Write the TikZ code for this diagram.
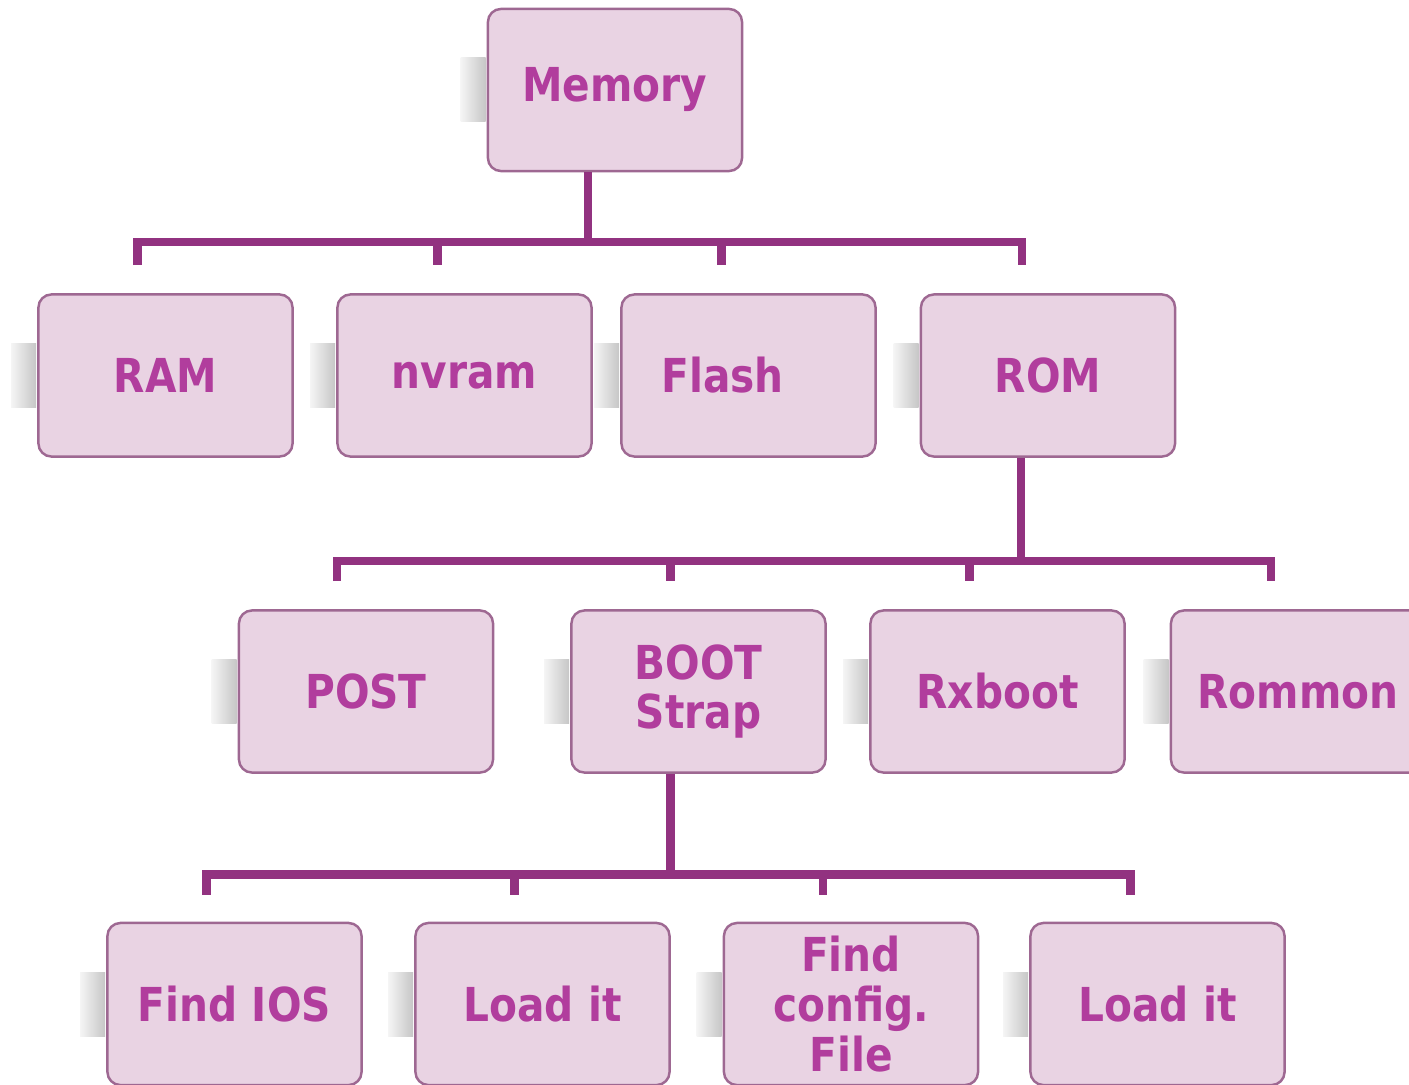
\documentclass[tikz,border=0pt]{standalone}
\usepackage{fontspec}
\setmainfont{DejaVu Sans}[FakeStretch=0.87]
\usetikzlibrary{calc}
\definecolor{linkc}{HTML}{923280}
\definecolor{textc}{HTML}{B13D9D}
\definecolor{boxfill}{HTML}{E9D3E3}
\definecolor{boxline}{HTML}{9E6892}
\begin{document}
\begin{tikzpicture}[x=0.01cm,y=-0.01cm,
  membox/.style={draw=boxline, line width=0.7pt, fill=boxfill,
    rounded corners=0.13cm, minimum width=2.54cm, minimum height=1.62cm,
    inner sep=0pt, align=center, text=textc,
    font=\bfseries\fontsize{13.3}{14.2}\selectfont},
  link/.style={draw=linkc, line width=0.085cm, line join=miter},
  sidebar/.style={left color=gray!8, right color=gray!45}]
\useasboundingbox (0,0) rectangle (1409,1085);
\clip (0,0) rectangle (1409,1085);

% boxes
\node[membox] (mem)  at (615,90)     {Memory};
\node[membox] (ram)  at (165.5,375.5) {RAM};
\node[membox] (nvr)  at (464.5,375.5) {nvram};
\node[membox] (fla)  at (748.5,375.5) {Flash\hspace*{0.52cm}};
\node[membox] (rom)  at (1048,375.5)  {ROM};
\node[membox] (post) at (366,691.5)   {POST};
\node[membox] (boot) at (698.5,691.5) {BOOT\\Strap};
\node[membox] (rxb)  at (997.5,691.5) {Rxboot};
\node[membox] (rmn)  at (1298,691.5)  {Rommon};
\node[membox] (fios) at (234.5,1004)  {Find IOS};
\node[membox] (ld1)  at (542.5,1004)  {Load it};
\node[membox] (fcf)  at (851,1004)    {Find\\config.\\File};
\node[membox] (ld2)  at (1157.5,1004) {Load it};

% grey side tabs left of each box
\foreach \n in {mem,ram,nvr,fla,rom,post,boot,rxb,rmn,fios,ld1,fcf,ld2}
  \shade[sidebar] ($(\n.west)+(-26,-32)$) rectangle ($(\n.west)+(-1,32)$);

% Memory tree
\draw[link] ($(mem.south)+(-27,0)$) -- ($(mem.south)+(-27,73)$);
\draw[link] ($(ram.north)+(-28,-28)$) -- ($(ram.north)+(-28,-51)$)
  -- ($(rom.north)+(-26,-51)$) -- ($(rom.north)+(-26,-28)$);
\draw[link] ($(nvr.north)+(-27,-51)$) -- ($(nvr.north)+(-27,-28)$);
\draw[link] ($(fla.north)+(-27,-51)$) -- ($(fla.north)+(-27,-28)$);

% ROM tree
\draw[link] ($(rom.south)+(-27,0)$) -- ($(rom.south)+(-27,105)$);
\draw[link] ($(post.north)+(-29,-28)$) -- ($(post.north)+(-29,-48)$)
  -- ($(rmn.north)+(-27,-48)$) -- ($(rmn.north)+(-27,-28)$);
\draw[link] ($(boot.north)+(-28,-48)$) -- ($(boot.north)+(-28,-28)$);
\draw[link] ($(rxb.north)+(-28,-48)$) -- ($(rxb.north)+(-28,-28)$);

% BOOT Strap tree
\draw[link] ($(boot.south)+(-28,0)$) -- ($(boot.south)+(-28,103)$);
\draw[link] ($(fios.north)+(-28,-27)$) -- ($(fios.north)+(-28,-47)$)
  -- ($(ld2.north)+(-27,-47)$) -- ($(ld2.north)+(-27,-27)$);
\draw[link] ($(ld1.north)+(-28,-47)$) -- ($(ld1.north)+(-28,-27)$);
\draw[link] ($(fcf.north)+(-28,-47)$) -- ($(fcf.north)+(-28,-27)$);
\end{tikzpicture}
\end{document}
